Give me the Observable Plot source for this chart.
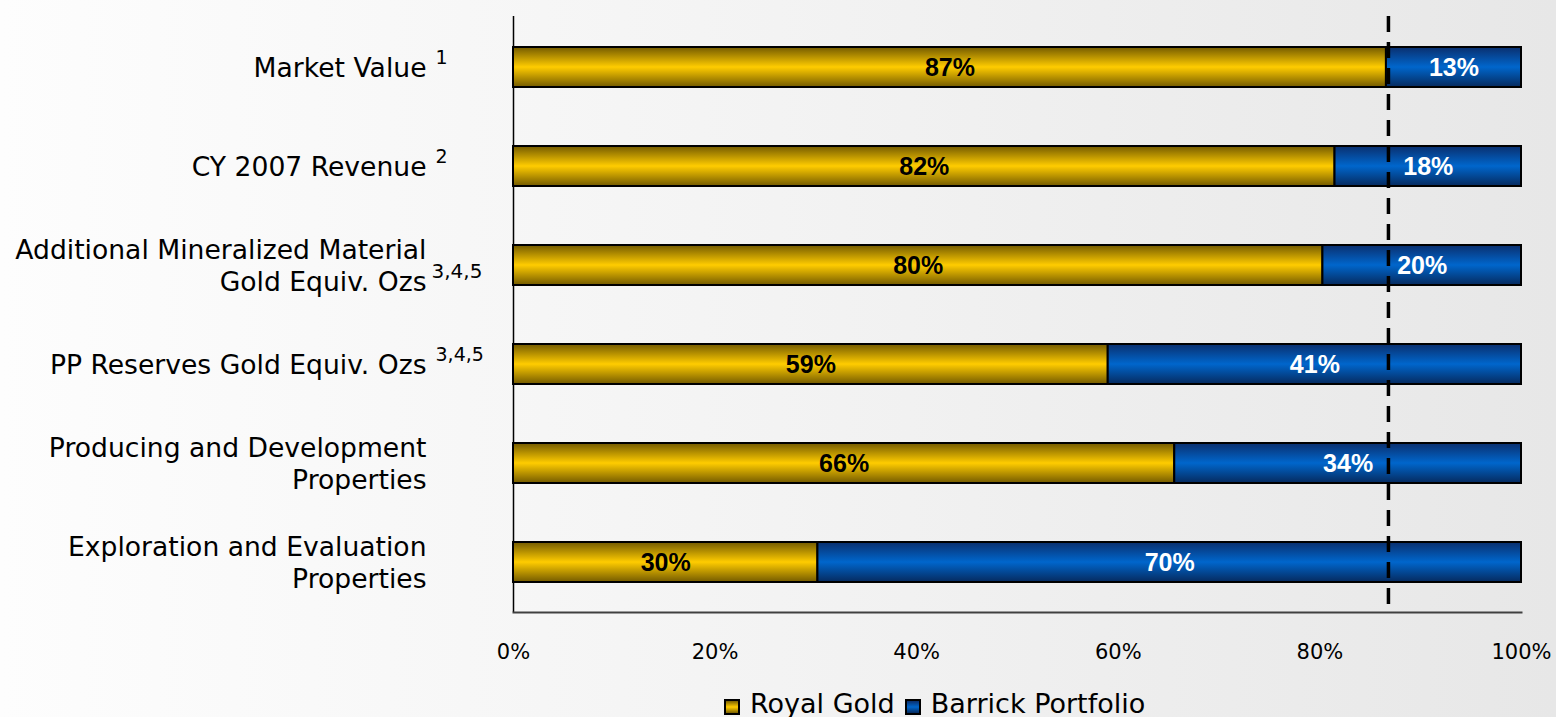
<!DOCTYPE html>
<html>
<head>
<meta charset="utf-8">
<script src="https://cdn.jsdelivr.net/npm/d3@7"></script>
<script src="https://cdn.jsdelivr.net/npm/@observablehq/plot@0.6"></script>
<style>
  html, body { margin: 0; padding: 0; }
  body {
    width: 1556px; height: 717px; overflow: hidden;
    background: linear-gradient(to right, #fdfdfd 0%, #f3f3f3 50%, #e7e7e7 100%);
    font-family: "DejaVu Sans", Verdana, sans-serif;
  }
  #legend {
    display: flex; align-items: center;
    margin-left: 724px; height: 33px; padding-top: 5px;
    font-size: 27px; line-height: 33px; color: #000; white-space: nowrap;
  }
  .sw { width: 12px; height: 12px; border: 2px solid #000; margin-right: 10px; margin-top: 6px; flex: none; }
  .gold { background: linear-gradient(to bottom, #7a6000, #ffcc00 50%, #7a6000); }
  .blue { background: linear-gradient(to bottom, #0a2f6e, #0066cc 50%, #062a5e); }
  .lab { margin-right: 10px; }
</style>
</head>
<body>
<div id="chart"></div>
<div id="legend">
  <span class="sw gold"></span><span class="lab">Royal Gold</span>
  <span class="sw blue"></span><span class="lab">Barrick Portfolio</span>
</div>
<script>
const categories = [
  "Market Value",
  "CY 2007 Revenue",
  "Additional Mineralized Material\nGold Equiv. Ozs",
  "PP Reserves Gold Equiv. Ozs",
  "Producing and Development\nProperties",
  "Exploration and Evaluation\nProperties"
];
const footnotes = ["1", "2", "3,4,5", "3,4,5", "", ""];
const royalGold = [86.6, 81.5, 80.3, 59.0, 65.6, 30.2];
const barrick = [13.4, 18.5, 19.7, 41.0, 34.4, 69.8];
const royalLabels = ["87%", "82%", "80%", "59%", "66%", "30%"];
const barrickLabels = ["13%", "18%", "20%", "41%", "34%", "70%"];
const marketValueLine = [86.8];
const xTicks = [0, 20, 40, 60, 80, 100];
const seriesNames = ["Royal Gold", "Barrick Portfolio"];

const rows = categories.map((c, i) => ({
  cat: c,
  rg: royalGold[i],
  br: barrick[i],
  rgLabel: royalLabels[i],
  brLabel: barrickLabels[i],
  note: footnotes[i],
  lines: c.split("\n").length
}));

const supSingle = rows.filter(d => d.note && d.lines === 1);
const supDouble = rows.filter(d => d.note && d.lines === 2);
const barFont = "'Liberation Sans', Arial, sans-serif";

const chart = Plot.plot({
  width: 1556,
  height: 682,
  marginLeft: 513,
  marginRight: 35,
  marginTop: 16,
  marginBottom: 70,
  style: "background: transparent; font-family: 'DejaVu Sans', Verdana, sans-serif; color: #000;",
  x: { domain: [0, 100], axis: null },
  y: { domain: categories, paddingInner: 0.6, paddingOuter: 0.3, axis: null },
  marks: [
    Plot.ruleX([0], { stroke: "#000", strokeWidth: 1.5 }),
    Plot.frame({ anchor: "bottom", stroke: "#404040", strokeWidth: 2 }),
    Plot.barX(rows, { x1: 0, x2: "rg", y: "cat", fill: "url(#goldGrad)", stroke: "#000", strokeWidth: 2 }),
    Plot.barX(rows, { x1: "rg", x2: d => d.rg + d.br, y: "cat", fill: "url(#blueGrad)", stroke: "#000", strokeWidth: 2 }),
    Plot.ruleX(marketValueLine, { stroke: "#000", strokeWidth: 3.5, strokeDasharray: "16,10" }),
    Plot.text(rows, { x: d => d.rg / 2, y: "cat", text: "rgLabel", fill: "#000", fontSize: 25, fontWeight: "bold", fontFamily: barFont }),
    Plot.text(rows, { x: d => d.rg + d.br / 2, y: "cat", text: "brLabel", fill: "#fff", fontSize: 25, fontWeight: "bold", fontFamily: barFont }),
    Plot.text(rows, { y: "cat", text: "cat", frameAnchor: "left", textAnchor: "end", dx: -87, dy: -1, fontSize: 26.6, lineHeight: 1.2, fill: "#000" }),
    Plot.text(supSingle, { y: "cat", text: "note", frameAnchor: "left", textAnchor: "start", dx: -78, dy: -10, fontSize: 19, fill: "#000" }),
    Plot.text(supDouble, { y: "cat", text: "note", frameAnchor: "left", textAnchor: "start", dx: -82, dy: 6, fontSize: 20, fill: "#000" }),
    Plot.axisX({ ticks: xTicks, tickFormat: d => d + "%", tickSize: 0, tickPadding: 32, fontSize: 21, anchor: "bottom", label: null })
  ]
});

const defs = d3.select(chart).insert("defs", ":first-child");
const gold = defs.append("linearGradient").attr("id", "goldGrad").attr("x1", 0).attr("y1", 0).attr("x2", 0).attr("y2", 1);
gold.append("stop").attr("offset", "0%").attr("stop-color", "#735a00");
gold.append("stop").attr("offset", "50%").attr("stop-color", "#ffcc00");
gold.append("stop").attr("offset", "100%").attr("stop-color", "#735a00");
const blue = defs.append("linearGradient").attr("id", "blueGrad").attr("x1", 0).attr("y1", 0).attr("x2", 0).attr("y2", 1);
blue.append("stop").attr("offset", "0%").attr("stop-color", "#0a2f6e");
blue.append("stop").attr("offset", "50%").attr("stop-color", "#0066cc");
blue.append("stop").attr("offset", "100%").attr("stop-color", "#062a5e");

document.getElementById("chart").appendChild(chart);
</script>
</body>
</html>
